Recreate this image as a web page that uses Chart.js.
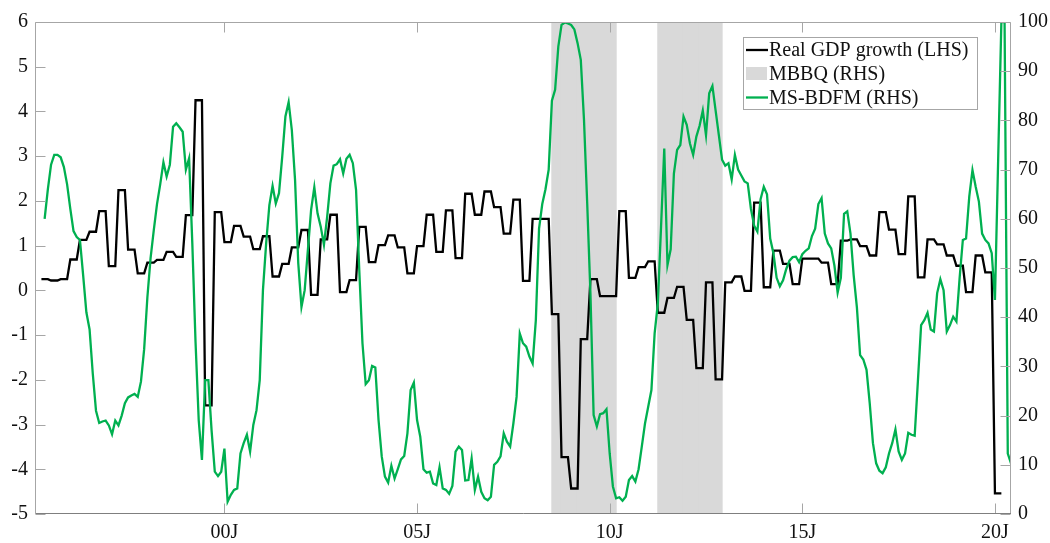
<!DOCTYPE html>
<html>
<head>
<meta charset="utf-8">
<script src="https://cdn.jsdelivr.net/npm/chart.js@4.4.1/dist/chart.umd.min.js"></script>
<style>
  html, body { margin: 0; padding: 0; background: #ffffff; }
  #wrap { width: 1050px; height: 543px; position: relative; }
</style>
</head>
<body>
<div id="wrap"><canvas id="chart"></canvas></div>
<script>
// Quarterly real GDP growth (%), each quarter held for its three months, first quarter 1995Q2
const gdpStart = '1995-04';
const gdpQuarterly = [
  0.25, 0.22, 0.25,
  0.69, 1.13, 1.31, 1.77,
  0.54, 2.24, 0.91, 0.38,
  0.62, 0.68, 0.86, 0.75,
  1.68, 4.25, -2.57, 1.75,
  1.08, 1.44, 1.20, 0.92,
  1.21, 0.31, 0.59, 0.96,
  1.35, -0.10, 1.14, 1.69,
  -0.04, 0.23, 1.42, 0.63,
  1.01, 1.23, 0.96, 0.38,
  0.99, 1.69, 0.86, 1.79,
  0.72, 2.16, 1.69, 2.21,
  1.86, 1.27, 2.03, 0.21,
  1.60, 1.60, -0.53, -3.73,
  -4.43, -1.09, 0.25, -0.13,
  -0.13, 1.77, 0.28, 0.52,
  0.65, -0.50, -0.17, 0.08,
  -0.66, -1.74, 0.18, -1.99,
  0.18, 0.31, -0.01, 1.96,
  0.07, 0.89, 0.59, 0.14,
  0.71, 0.71, 0.62, 0.14,
  1.11, 1.14, 0.99, 0.78,
  1.75, 1.36, 0.81, 2.10,
  0.29, 1.14, 1.03, 0.78,
  0.55, -0.04, 0.78, 0.40,
  -4.54
];

// Monthly MS-BDFM recession probability (%), first month 1995-05
const msbdfmStart = '1995-05';
const msbdfm = [
  60, 66, 71, 73, 73, 72.5, 70.5, 67, 62, 57.5,
  56.3, 55.7, 48.5, 41, 37.5, 28.5, 21, 18.5, 18.8, 19,
  18, 16.2, 19, 18, 20, 22.5, 23.7, 24.1, 24.4, 23.8,
  26.9, 33.5, 44, 52, 57.7, 63, 67, 71.5, 68.6, 71,
  78.7, 79.4, 78.6, 77.7, 70, 72.3, 55, 35, 19, 11,
  27.2, 27.2, 17, 8.6, 7.7, 8.6, 13.3, 2.5, 3.9, 4.9,
  5.2, 12.3, 14.4, 16.1, 12.7, 18.1, 21.1, 27.2, 45.5, 55,
  62.8, 66.7, 63.1, 65.2, 72.6, 80.8, 83.7, 78, 67.9, 51,
  42.1, 45.5, 53.7, 61.8, 66.4, 61.1, 58.4, 54.7, 60.4, 67.2,
  70.8, 71.1, 72.1, 69.2, 72.2, 73, 71.3, 65.9, 49.6, 34.7,
  26.4, 27.2, 30.1, 29.8, 19.1, 11.7, 7.6, 6.4, 9.8, 7.2,
  9.1, 11.1, 11.8, 16.4, 25.2, 26.7, 19.1, 15.7, 9.1, 8.4,
  8.6, 6.2, 5.9, 9.5, 5.2, 4.9, 4.1, 5.7, 12.7, 13.7,
  13.0, 6.8, 6.9, 11.3, 4.9, 7.6, 4.5, 3.2, 2.8, 3.5,
  10.0, 10.6, 11.7, 16.4, 14.7, 13.7, 18.4, 23.8, 36.7, 34.7,
  34.0, 32.0, 30.6, 39.4, 58, 63, 66, 70, 84, 86.2,
  95, 99.4, 99.9, 99.7, 99.4, 98.5, 95.7, 92.3, 80.1, 63.1,
  44.9, 20.1, 17.8, 20.3, 20.5, 21.3, 12.3, 5.6, 3.2, 3.4,
  2.7, 3.5, 6.9, 7.7, 6.6, 9.1, 13.7, 18.4, 21.8, 25.2,
  36.7, 42.8, 58.4, 74.3, 50.6, 53.8, 69.2, 74, 75, 80.8,
  79.1, 75.3, 73, 76.7, 78.9, 82, 77, 85.5, 87, 82,
  77, 72, 70.8, 71.3, 68, 73, 70, 68.8, 67.6, 67.2,
  62, 58.6, 57.4, 64, 66.5, 65, 56, 53, 48, 46.3,
  47.5, 49.8, 51.5, 52.2, 52.3, 51.2, 52.8, 53.5, 54, 56.5,
  58, 63, 64.2, 57, 55, 54, 50.5, 45, 48, 61,
  61.5, 57, 48.5, 42, 32.3, 31.4, 29.3, 22.5, 14.4, 10.3,
  8.8, 8.3, 9.5, 12.3, 14.4, 17.2, 12.7, 11, 12.3, 16.5,
  16.1, 15.9, 27, 38.4, 39.4, 40.9, 37.5, 37.1, 44.9, 47.7,
  45.5, 37.1, 38.4, 40.1, 39.1, 48, 55.7, 56, 64.5, 69.9,
  66.5, 63.5, 57, 55.7, 55, 53, 43.5, 72, 100, 100,
  12.3, 10.3
];

// MBBQ recession months (first and last month of each episode), shown at 100 on the right axis
const mbbqPeriods = [['2008-07', '2010-02'], ['2011-04', '2012-11']];
const mbbqLevel = 100;

// Axis settings
const xRange = ['1995-02', '2020-06'];
const xTickMonths = ['2000-01', '2005-01', '2010-01', '2015-01', '2020-01'];
const xTickLabels = ['00J', '05J', '10J', '15J', '20J'];
const leftRange = [-5, 6];
const rightRange = [0, 100];

const seriesNames = ['Real GDP growth (LHS)', 'MBBQ (RHS)', 'MS-BDFM (RHS)'];
const seriesColors = ['#000000', '#d9d9d9', '#00b050'];

// months counted from January 2000
function monthIndex(s) {
  const [y, m] = s.split('-').map(Number);
  return (y - 2000) * 12 + (m - 1);
}

const gdpPoints = [];
const g0 = monthIndex(gdpStart);
gdpQuarterly.forEach((v, q) => {
  for (let k = 0; k < 3; k++) gdpPoints.push({ x: g0 + 3 * q + k, y: v });
});

const m0 = monthIndex(msbdfmStart);
const msPoints = msbdfm.map((v, i) => ({ x: m0 + i, y: v }));

const mbbqPoints = [];
mbbqPeriods.forEach(([a, b]) => {
  for (let m = monthIndex(a); m <= monthIndex(b); m++) mbbqPoints.push({ x: m + 0.5, y: mbbqLevel });
});

const FONT = 'Liberation Serif, Times New Roman, serif';
const FRAME = '#a6a6a6';
const FRAME_BOTTOM = '#7f7f7f';
const TICK_LEN = 10;

// box, inward tick marks
const framePlugin = {
  id: 'frame',
  afterDatasetsDraw(chart) {
    const { ctx, chartArea: a, scales } = chart;
    const L = Math.round(a.left) + 0.5, R = Math.round(a.right) - 0.5;
    const T = Math.round(a.top) + 0.5, B = Math.round(a.bottom) - 0.5;
    ctx.save();
    ctx.lineWidth = 1;
    ctx.strokeStyle = FRAME;
    ctx.beginPath();
    ctx.moveTo(L, B); ctx.lineTo(L, T); ctx.lineTo(R, T); ctx.lineTo(R, B);
    // left axis ticks
    scales.yL.ticks.forEach(t => {
      const y = Math.round(scales.yL.getPixelForValue(t.value)) + 0.5;
      ctx.moveTo(L, y); ctx.lineTo(L + TICK_LEN, y);
    });
    // right axis ticks
    scales.yR.ticks.forEach(t => {
      const y = Math.round(scales.yR.getPixelForValue(t.value)) + 0.5;
      ctx.moveTo(R, y); ctx.lineTo(R - TICK_LEN, y);
    });
    // x ticks, top and bottom
    scales.x.ticks.forEach(t => {
      const x = Math.round(scales.x.getPixelForValue(t.value)) + 0.5;
      ctx.moveTo(x, T); ctx.lineTo(x, T + TICK_LEN);
      ctx.moveTo(x, B); ctx.lineTo(x, B - TICK_LEN);
    });
    ctx.stroke();
    ctx.strokeStyle = FRAME_BOTTOM;
    ctx.beginPath();
    ctx.moveTo(L, B); ctx.lineTo(R + 0.5, B);
    ctx.stroke();
    ctx.restore();
  }
};

// legend box in the upper right of the plot
const legendPlugin = {
  id: 'boxLegend',
  afterDraw(chart) {
    const { ctx } = chart;
    const bx = 743.5, by = 37.5, bw = 234, bh = 72;
    ctx.save();
    ctx.fillStyle = '#ffffff';
    ctx.fillRect(bx, by, bw, bh);
    ctx.strokeStyle = '#a6a6a6';
    ctx.lineWidth = 1;
    ctx.strokeRect(bx, by, bw, bh);
    ctx.font = '20px ' + FONT;
    ctx.textBaseline = 'middle';
    ctx.textAlign = 'left';
    const rows = [50, 73.5, 97.5];
    seriesNames.forEach((name, i) => {
      const y = rows[i];
      if (i === 1) {
        ctx.fillStyle = seriesColors[i];
        ctx.fillRect(746, y - 6.5, 21, 13);
      } else {
        ctx.strokeStyle = seriesColors[i];
        ctx.lineWidth = 2.3;
        ctx.beginPath();
        ctx.moveTo(746, y); ctx.lineTo(768, y);
        ctx.stroke();
      }
      ctx.fillStyle = '#111111';
      ctx.fillText(name, 769, y + 1);
    });
    ctx.restore();
  }
};

const tickFont = { family: FONT, size: 20 };

new Chart(document.getElementById('chart'), {
  type: 'line',
  data: {
    datasets: [
      {
        type: 'line', label: seriesNames[0], data: gdpPoints, yAxisID: 'yL',
        borderColor: seriesColors[0], borderWidth: 2.3, pointRadius: 0, tension: 0, order: 2
      },
      {
        type: 'bar', label: seriesNames[1], data: mbbqPoints, yAxisID: 'yR',
        backgroundColor: seriesColors[1], borderWidth: 0,
        barPercentage: 1, categoryPercentage: 1, inflateAmount: 0.6, order: 3
      },
      {
        type: 'line', label: seriesNames[2], data: msPoints, yAxisID: 'yR',
        borderColor: seriesColors[2], borderWidth: 2.3, pointRadius: 0, tension: 0, order: 1
      }
    ]
  },
  options: {
    responsive: true,
    maintainAspectRatio: false,
    animation: false,
    events: [],
    layout: { padding: { top: 22, left: 0, right: 0, bottom: 0 } },
    plugins: { legend: { display: false }, tooltip: { enabled: false } },
    scales: {
      x: {
        type: 'linear',
        offset: false,
        min: monthIndex(xRange[0]),
        max: monthIndex(xRange[1]),
        grid: { display: false, offset: false, drawTicks: false },
        border: { display: false },
        afterBuildTicks(scale) {
          scale.ticks = xTickMonths.map(s => ({ value: monthIndex(s) }));
        },
        ticks: {
          autoSkip: false, maxRotation: 0, padding: 7,
          font: tickFont, color: '#111111',
          callback: (v, i) => xTickLabels[i]
        },
        afterFit(scale) { scale.height = 29; }
      },
      yL: {
        type: 'linear', position: 'left',
        min: leftRange[0], max: leftRange[1],
        grid: { display: false, drawTicks: false },
        border: { display: false },
        ticks: { stepSize: 1, padding: 7, font: tickFont, color: '#111111' },
        afterFit(scale) { scale.width = 35; }
      },
      yR: {
        type: 'linear', position: 'right',
        min: rightRange[0], max: rightRange[1],
        grid: { display: false, drawTicks: false },
        border: { display: false },
        ticks: { stepSize: 10, padding: 7, font: tickFont, color: '#111111' },
        afterFit(scale) { scale.width = 39; }
      }
    }
  },
  plugins: [framePlugin, legendPlugin]
});
</script>
</body>
</html>
